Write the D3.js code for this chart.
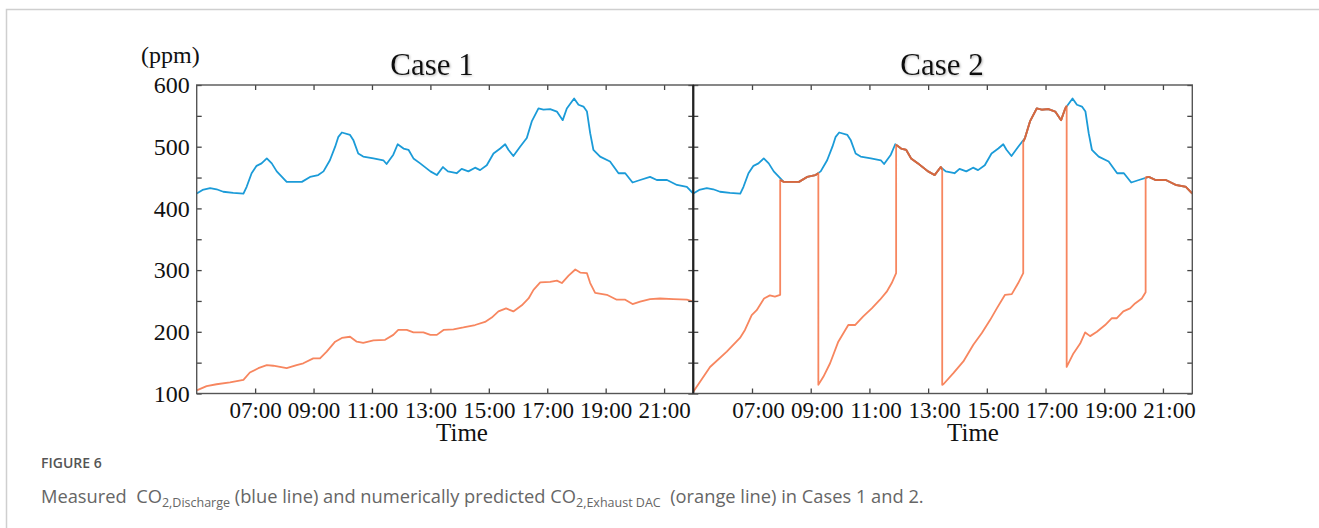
<!DOCTYPE html>
<html lang="en">

<head>
    <meta charset="UTF-8">
    <title>Figure 6</title>
    <style>
        body {
            margin: 0;
            background: #fff;
        }

        svg text.serif {
            font-family: "Liberation Serif", "Times New Roman", serif;
            fill: #111;
        }

        .caption {
            font-family: "Open Sans", sans-serif;
        }
    </style>
</head>

<body>

    <script src="https://d3js.org/d3.v7.min.js"></script>

    <div id="chart"></div>
    <script>
        // time in decimal hours, CO2 in ppm
        var blueTime = [5.0, 5.2, 5.46, 5.68, 5.91, 6.25, 6.6, 6.71, 6.88, 7.05, 7.22, 7.4, 7.57, 7.74, 8.08, 8.42, 8.6, 8.88, 9.16, 9.34,
            9.56, 9.74, 9.85, 9.97, 10.25, 10.36, 10.53, 10.7, 11.05, 11.39, 11.5, 11.73, 11.88, 12.08, 12.25, 12.42, 12.65, 13.0, 13.22,
            13.43, 13.6, 13.9, 14.07, 14.3, 14.53, 14.7, 14.93, 15.16, 15.39, 15.56, 15.67, 15.84, 16.07, 16.3, 16.47, 16.7, 16.87, 17.1,
            17.33, 17.53, 17.67, 17.92, 18.07, 18.24, 18.36, 18.47, 18.58, 18.81, 19.15, 19.44, 19.67, 19.92, 20.18, 20.52, 20.75, 21.1,
            21.44, 21.78, 22.0];
        var blueVals = [424, 430, 433, 431, 427, 425, 424, 435, 457, 469, 473, 481, 473, 460, 443, 443, 443, 451, 454, 460,
            478, 500, 516, 523, 519, 511, 489, 484, 481, 478, 472, 487, 504, 497, 495, 481, 473, 460, 454,
            467, 460, 457, 464, 460, 466, 462, 470, 489, 497, 504, 495, 485, 500, 514, 541, 562, 560, 561,
            557, 543, 562, 578, 568, 565, 557, 522, 495, 484, 476, 457, 457, 442, 446, 451, 446, 446,
            438, 435, 424];

        var case1Time = [5.0, 5.34, 5.68, 6.14, 6.6, 6.82, 7.11, 7.4, 7.62, 8.08, 8.42, 8.65, 8.99, 9.22, 9.45, 9.74, 9.97, 10.25, 10.48,
            10.7, 11.05, 11.45, 11.73, 11.9, 12.19, 12.42, 12.76, 13.0, 13.22, 13.45, 13.79, 14.13, 14.53, 14.87, 15.1, 15.33, 15.59,
            15.84, 16.13, 16.36, 16.53, 16.76, 17.1, 17.33, 17.5, 17.73, 17.96, 18.13, 18.36, 18.47, 18.64, 19.04, 19.38, 19.67, 19.92,
            20.18, 20.52, 20.86, 21.32, 21.78, 22.0];
        var case1Vals = [105, 112, 115, 118, 122, 134, 141, 146, 145, 141, 146, 149, 157, 157, 168, 184, 190, 192, 184,
            182, 186, 187, 195, 203, 203, 199, 199, 195, 195, 203, 204, 207, 211, 216, 223, 233, 238,
            233, 243, 254, 268, 280, 281, 283, 279, 291, 301, 296, 295, 279, 263, 260, 252, 252, 245,
            249, 253, 254, 253, 252, 249];

        // Case 2: repeated time = vertical switch of the DAC output
        var case2Time = [5.0, 5.57, 6.14, 6.59, 6.76, 6.99, 7.16, 7.41, 7.61, 7.78, 7.96,
            7.96, 8.08, 8.42, 8.6, 8.88, 9.16, 9.26,
            9.26, 9.43, 9.66, 9.94, 10.28, 10.51, 10.79, 11.08, 11.36, 11.59, 11.76, 11.91,
            11.91, 12.08, 12.25, 12.42, 12.65, 13.0, 13.22, 13.43, 13.48,
            13.48, 13.52, 13.86, 14.2, 14.54, 14.83, 15.11, 15.34, 15.62, 15.85, 16.07, 16.24,
            16.24, 16.3, 16.47, 16.7, 16.87, 17.1, 17.33, 17.53, 17.67, 17.72,
            17.72, 17.95, 18.18, 18.35, 18.52, 18.75, 19.03, 19.26, 19.43, 19.65, 19.88, 20.05, 20.28, 20.41,
            20.41, 20.52, 20.75, 21.1, 21.44, 21.78, 22.0];
        var case2Vals = [103, 143, 168, 190, 203, 227, 235, 254, 259, 257, 260,
            446, 443, 443, 443, 451, 454, 457,
            114, 127, 149, 184, 211, 211, 225, 238, 252, 265, 279, 295,
            503, 497, 495, 481, 473, 460, 454, 467, 463,
            114, 115, 133, 152, 179, 198, 219, 238, 260, 261, 279, 295,
            508, 514, 541, 562, 560, 561, 557, 543, 562, 566,
            143, 165, 181, 199, 193, 200, 211, 222, 222, 233, 238, 246, 254, 264,
            450, 451, 446, 446, 438, 435, 424];

        var timeTicks = [7, 9, 11, 13, 15, 17, 19, 21];
        var ppmTicks = [100, 200, 300, 400, 500, 600];
        var panelTitles = ["Case 1", "Case 2"];

        var W = 1319, H = 528;
        var plotTop = 85, plotBottom = 393.5;
        var panels = [
            { x0: 196.7, x1: 693.3, orange: [case1Time, case1Vals], labelShift: 0, timeX: 462, titleX: 432 },
            { x0: 693.3, x1: 1192.3, orange: [case2Time, case2Vals], labelShift: 6, timeX: 973, titleX: 942 }
        ];

        var blue = "#1b9bd8", orange = "#f7865f", darkOrange = "#d5683f";

        var svg = d3.select("#chart")
            .append("svg")
            .attr("width", W)
            .attr("height", H);

        // soft shadow behind the panel titles
        svg.append("defs").append("filter")
            .attr("id", "soft")
            .append("feDropShadow")
            .attr("dx", 1).attr("dy", 1)
            .attr("stdDeviation", 1.2)
            .attr("flood-color", "#888")
            .attr("flood-opacity", 0.6);

        // page frame
        svg.append("path")
            .attr("d", "M6.5," + H + "V9.5H" + W)
            .attr("fill", "none")
            .attr("stroke", "#cfcfcf")
            .attr("stroke-width", 1.5);

        var y = d3.scaleLinear().domain([100, 600]).range([plotBottom, plotTop]);
        var fmt = function (h) { return d3.format("02d")(h) + ":00"; };

        panels.forEach(function (p, i) {
            var x = d3.scaleLinear().domain([5, 22]).range([p.x0, p.x1]);
            var g = svg.append("g");

            var line = d3.line()
                .x(function (d) { return x(d[0]); })
                .y(function (d) { return y(d[1]); });

            var bluePts = d3.zip(blueTime, blueVals);
            var orangePts = d3.zip(p.orange[0], p.orange[1]);

            g.append("path")
                .datum(bluePts)
                .attr("fill", "none")
                .attr("stroke", blue)
                .attr("stroke-width", 1.8)
                .attr("stroke-linejoin", "round")
                .attr("d", line);

            g.append("path")
                .datum(orangePts)
                .attr("fill", "none")
                .attr("stroke", orange)
                .attr("stroke-width", 1.8)
                .attr("stroke-linejoin", "round")
                .attr("d", line);

            // split at vertical switches; every second piece follows the measured line
            var pieces = [[]];
            orangePts.forEach(function (d, k) {
                if (k > 0 && d[0] === orangePts[k - 1][0]) pieces.push([]);
                pieces[pieces.length - 1].push(d);
            });
            g.selectAll(".follow")
                .data(pieces.filter(function (d, k) { return k % 2 === 1; }))
                .enter()
                .append("path")
                .attr("fill", "none")
                .attr("stroke", darkOrange)
                .attr("stroke-width", 1.9)
                .attr("stroke-linejoin", "round")
                .attr("d", line);

            // axes with inward ticks
            var axB = g.append("g")
                .attr("transform", "translate(0," + plotBottom + ")")
                .call(d3.axisBottom(x).tickValues(timeTicks).tickFormat(fmt)
                    .tickSizeInner(-5).tickSizeOuter(0).tickPadding(8));
            axB.selectAll("text")
                .attr("class", "serif")
                .attr("dx", p.labelShift)
                .style("font-size", "23px");

            g.append("g")
                .attr("transform", "translate(0," + plotTop + ")")
                .call(d3.axisTop(x).tickValues(timeTicks).tickFormat("")
                    .tickSizeInner(-5).tickSizeOuter(0));

            var axL = g.append("g")
                .attr("transform", "translate(" + p.x0 + ",0)")
                .call(d3.axisLeft(y).ticks(10).tickFormat(i === 0 ? function (v) { return ppmTicks.indexOf(v) >= 0 ? v : ""; } : "")
                    .tickSizeInner(-5).tickSizeOuter(0).tickPadding(7));
            axL.selectAll("text")
                .attr("class", "serif")
                .style("font-size", "24px");

            g.append("g")
                .attr("transform", "translate(" + p.x1 + ",0)")
                .call(d3.axisRight(y).ticks(10).tickFormat("")
                    .tickSizeInner(-5).tickSizeOuter(0));

            g.selectAll(".domain").remove();
            g.selectAll(".tick line").attr("stroke", "#444").attr("stroke-width", 1.3);

            g.append("rect")
                .attr("x", p.x0)
                .attr("y", plotTop)
                .attr("width", p.x1 - p.x0)
                .attr("height", plotBottom - plotTop)
                .attr("fill", "none")
                .attr("stroke", "#555")
                .attr("stroke-width", 1.4);

            g.append("text")
                .attr("class", "serif")
                .attr("x", p.titleX)
                .attr("y", 75)
                .attr("text-anchor", "middle")
                .attr("filter", "url(#soft)")
                .style("font-size", "31px")
                .text(panelTitles[i]);

            g.append("text")
                .attr("class", "serif")
                .attr("x", p.timeX)
                .attr("y", 441)
                .attr("text-anchor", "middle")
                .style("font-size", "25px")
                .text("Time");
        });

        // middle divider
        svg.append("line")
            .attr("x1", panels[0].x1).attr("x2", panels[0].x1)
            .attr("y1", plotTop).attr("y2", plotBottom)
            .attr("stroke", "#222")
            .attr("stroke-width", 2.2);

        svg.append("text")
            .attr("class", "serif")
            .attr("x", 141)
            .attr("y", 63)
            .style("font-size", "24px")
            .text("(ppm)");

        // caption
        var cap = svg.append("g").attr("class", "caption");
        cap.append("text")
            .attr("x", 41)
            .attr("y", 468)
            .attr("fill", "#555")
            .style("font-size", "14px")
            .style("font-weight", 600)
            .text("FIGURE 6");

        var t = cap.append("text")
            .attr("x", 41)
            .attr("y", 503)
            .attr("fill", "#666")
            .style("font-size", "18.3px");
        t.append("tspan").text("Measured\u00a0\u00a0CO");
        t.append("tspan").attr("dy", 4).style("font-size", "12.5px").text("2,Discharge");
        t.append("tspan").attr("dy", -4).text(" (blue line) and numerically predicted CO");
        t.append("tspan").attr("dy", 4).style("font-size", "12.5px").text("2,Exhaust DAC");
        t.append("tspan").attr("dy", -4).text("\u00a0\u00a0(orange line) in Cases 1 and 2.");
    </script>
</body>

</html>
